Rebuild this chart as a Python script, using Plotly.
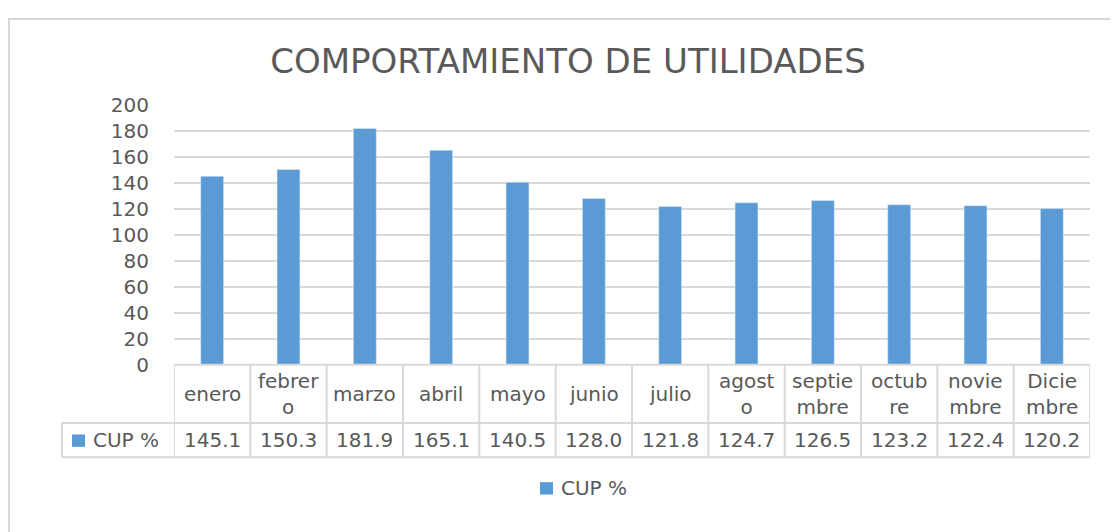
import plotly.graph_objects as go

W, H = 1118, 532
OFF = 8  # page body margin offset

months = ["enero", "febrero", "marzo", "abril", "mayo", "junio", "julio",
          "agosto", "septiembre", "octubre", "noviembre", "Diciembre"]
table_labels = ["enero", "febrer<br>o", "marzo", "abril", "mayo", "junio", "julio",
                "agost<br>o", "septie<br>mbre", "octub<br>re", "novie<br>mbre", "Dicie<br>mbre"]
values = [145.1, 150.3, 181.9, 165.1, 140.5, 128.0, 121.8, 124.7, 126.5, 123.2, 122.4, 120.2]
series_name = "CUP %"
title_text = "COMPORTAMIENTO DE UTILIDADES"
y_ticks = list(range(0, 201, 20))

BAR = "#5b9bd5"
TXT = "#595959"
GRID = "#d9d9d9"
FONT = "DejaVu Sans"


def px(x):
    return (x - OFF) / W


def py(y):
    return 1 - (y - OFF) / H


plot_l, plot_r, plot_t, plot_b = 174, 1090, 97, 369
row1_b, row2_b, lab_l = 430, 466, 62

fig = go.Figure()
fig.add_trace(go.Bar(x=list(range(len(months))), y=values, marker_color=BAR,
                     name=series_name, showlegend=False, hovertext=months))

shapes = []
line = dict(color=GRID, width=2)
# outer frame
shapes.append(dict(type="rect", xref="paper", yref="paper", x0=px(9), y0=py(7),
                   x1=px(W + 20), y1=py(H + 20), line=line, layer="below"))
# table horizontal lines
shapes.append(dict(type="line", xref="paper", yref="paper", x0=px(plot_l), x1=px(plot_r),
                   y0=py(plot_b), y1=py(plot_b), line=line))
for yy in (row1_b, row2_b):
    shapes.append(dict(type="line", xref="paper", yref="paper", x0=px(lab_l), x1=px(plot_r),
                       y0=py(yy), y1=py(yy), line=line))
# label column left border
shapes.append(dict(type="line", xref="paper", yref="paper", x0=px(lab_l), x1=px(lab_l),
                   y0=py(row1_b), y1=py(row2_b), line=line))
# vertical table lines at category boundaries
for i in range(len(months) + 1):
    shapes.append(dict(type="line", xref="x", yref="paper", x0=i - 0.5, x1=i - 0.5,
                       y0=py(plot_b), y1=py(row2_b), line=line))
# legend keys
shapes.append(dict(type="rect", xref="paper", yref="paper", x0=px(72), x1=px(85),
                   y0=py(442), y1=py(455), fillcolor=BAR, line=dict(width=0)))
shapes.append(dict(type="rect", xref="paper", yref="paper", x0=px(540), x1=px(553),
                   y0=py(492), y1=py(505), fillcolor=BAR, line=dict(width=0)))

annotations = []
for i, (lab, v) in enumerate(zip(table_labels, values)):
    annotations.append(dict(x=i, xref="x", y=py(400), yref="paper", text=lab,
                            showarrow=False, xanchor="center", yanchor="middle",
                            font=dict(family=FONT, size=20, color=TXT)))
    annotations.append(dict(x=i, xref="x", y=py(448), yref="paper", text=f"{v:.1f}",
                            showarrow=False, xanchor="center", yanchor="middle",
                            font=dict(family=FONT, size=20, color=TXT)))
annotations.append(dict(x=px(91), xref="paper", y=py(448), yref="paper", text=series_name,
                        showarrow=False, xanchor="left", yanchor="middle",
                        font=dict(family=FONT, size=20, color=TXT)))
annotations.append(dict(x=px(559), xref="paper", y=py(498), yref="paper", text=series_name,
                        showarrow=False, xanchor="left", yanchor="middle",
                        font=dict(family=FONT, size=20, color=TXT)))

fig.update_layout(
    width=W, height=H,
    margin=dict(l=0, r=0, t=0, b=0),
    paper_bgcolor="white", plot_bgcolor="white",
    title=dict(text=title_text, x=px(568), xanchor="center", y=py(61), yanchor="middle",
               font=dict(family=FONT, size=34, color=TXT)),
    bargap=0.7,
    xaxis=dict(domain=[px(plot_l), px(plot_r)], range=[-0.5, len(months) - 0.5],
               showticklabels=False, showgrid=False, zeroline=False, showline=False,
               fixedrange=True),
    yaxis=dict(domain=[py(plot_b), py(plot_t)], range=[0, 200], tickvals=y_ticks,
               showgrid=True, gridcolor=GRID, gridwidth=2, zeroline=False, showline=False,
               ticks="", ticklabelstandoff=24,
               tickfont=dict(family=FONT, size=20, color=TXT)),
    shapes=shapes,
    annotations=annotations,
    showlegend=False,
)

fig.write_html("out.html")
